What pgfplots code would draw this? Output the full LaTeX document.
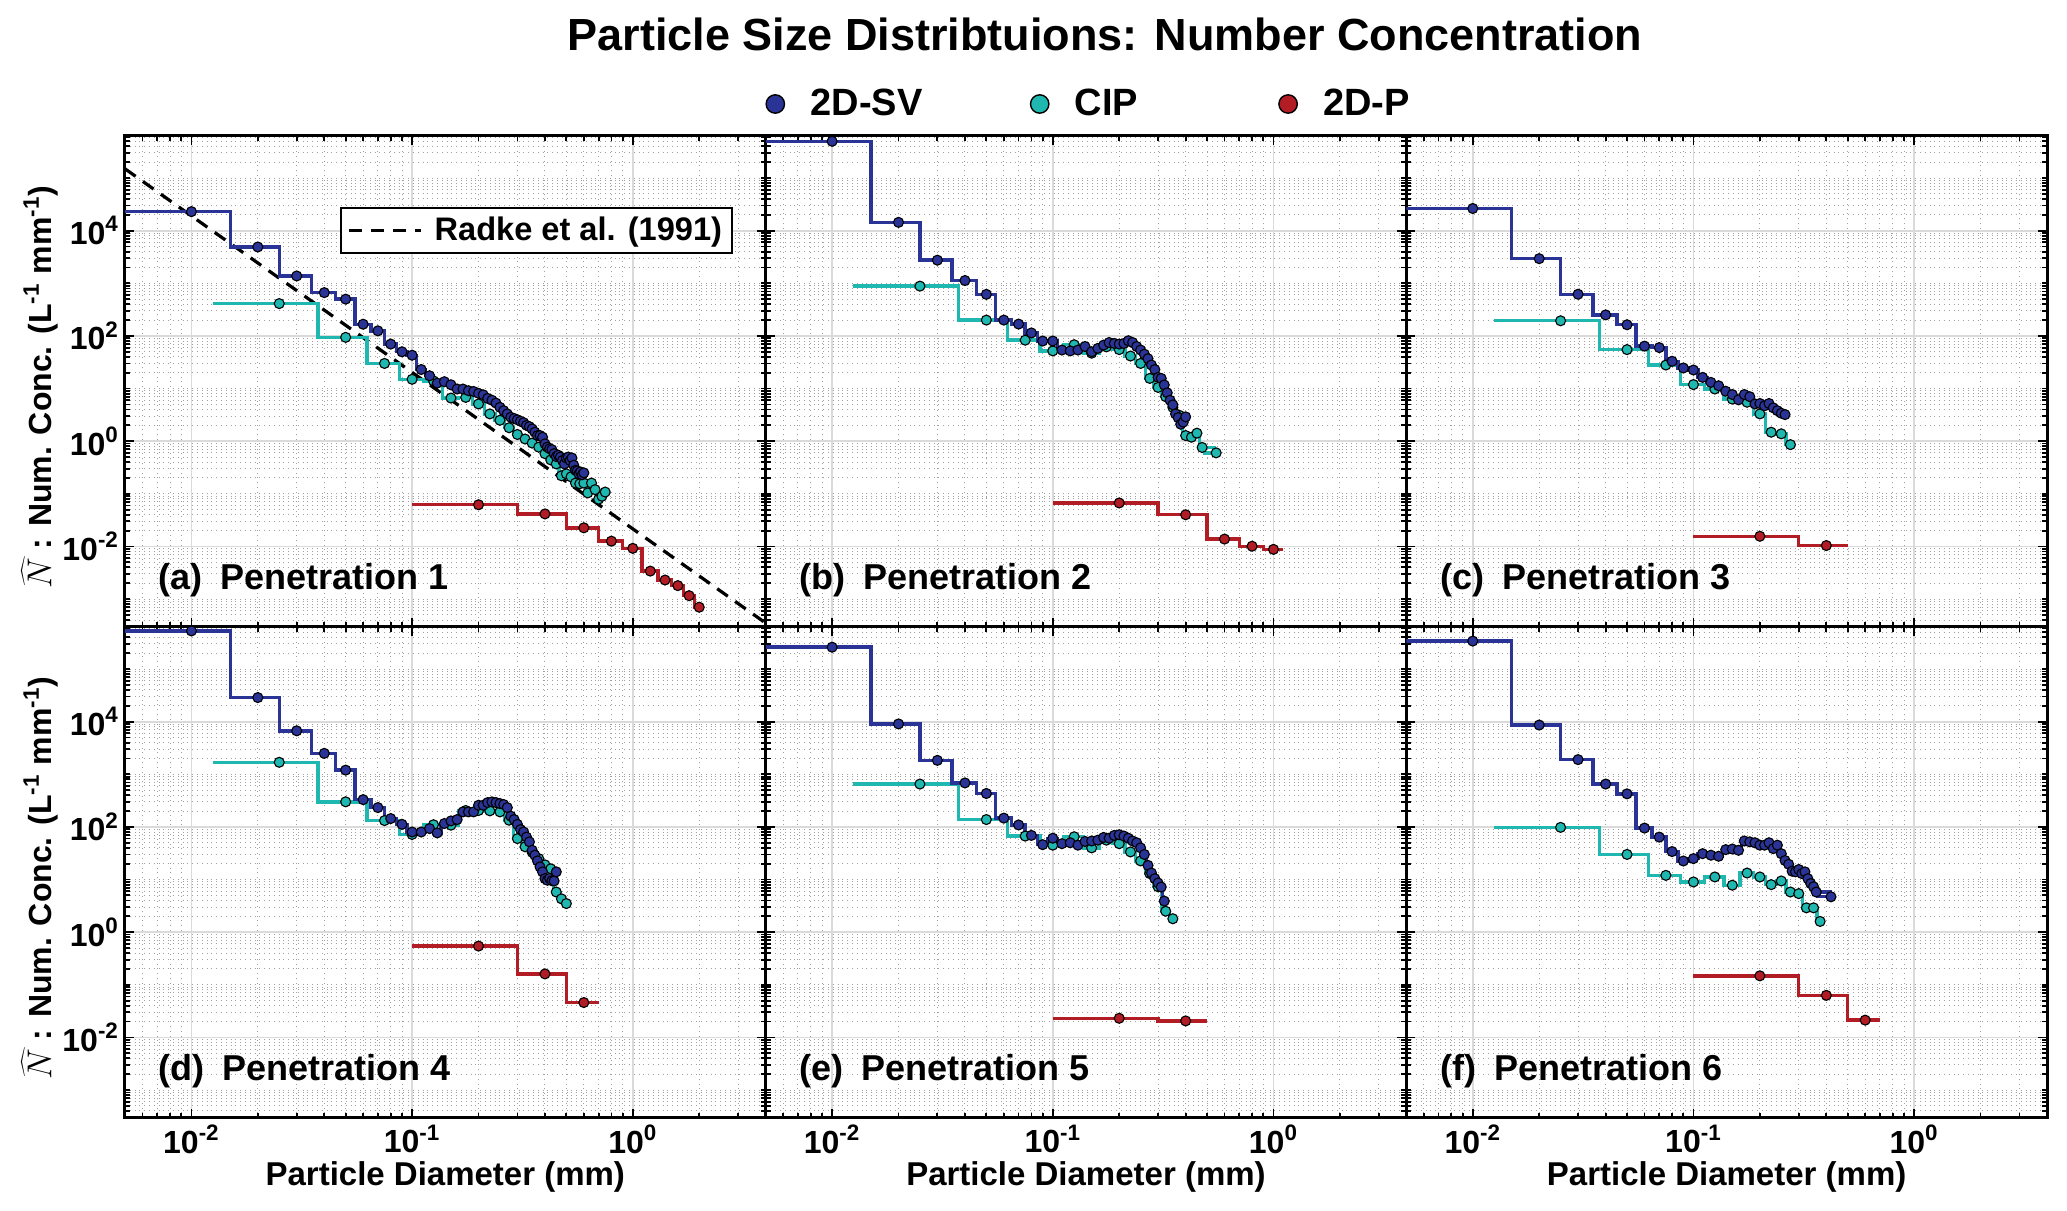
\documentclass[border=0pt]{standalone}
\usepackage{pgfplots}
\pgfplotsset{compat=1.18}
\usepackage{pgfplotstable}
\usepgfplotslibrary{groupplots}
\usepackage{fontspec}
\setmainfont{Liberation Sans}

\definecolor{svblue}{RGB}{42,52,150}
\definecolor{cipcyan}{RGB}{30,184,176}
\definecolor{pred}{RGB}{178,28,36}
\definecolor{majgrid}{RGB}{218,218,218}
\definecolor{mingrid}{RGB}{160,160,160}

\newcommand{\tlab}[1]{10\textsuperscript{#1}}

% minor tick lists (1..9 x 10^k)
\def\xminorlist{}
\foreach \e in {-3,...,0}{\foreach \m in {1,...,9}{\xdef\xminorlist{\xminorlist\m e\e,}}}
\xdef\xminorlist{\xminorlist 1e1}
\def\yminorlist{}
\foreach \e in {-4,...,5}{\foreach \m in {1,...,9}{\xdef\yminorlist{\yminorlist\m e\e,}}}
\xdef\yminorlist{\yminorlist 1e6}

% ---------- (a) Penetration 1 ----------
\pgfplotstableread{
x y
0.01 23000
0.02 4900
0.03 1380
0.04 665
0.05 500
0.06 167
0.07 125
0.08 70
0.09 50
0.10 43
0.11 23
0.12 17.5
0.13 12.7
0.14 13.5
0.15 11.8
0.16 9.8
0.17 9.8
0.18 9.1
0.19 8.8
0.20 8.1
0.21 7.6
0.22 6.5
0.23 6.0
0.24 5.3
0.25 4.4
0.26 3.8
0.27 3.3
0.28 2.85
0.29 2.7
0.30 2.55
0.31 2.4
0.32 2.25
0.33 2.0
0.34 1.89
0.35 1.71
0.36 1.48
0.37 1.28
0.38 1.28
0.39 1.19
0.40 0.89
0.41 0.77
0.42 0.72
0.43 0.69
0.44 0.58
0.45 0.51
0.46 0.54
0.47 0.50
0.48 0.43
0.49 0.37
0.50 0.48
0.51 0.50
0.52 0.43
0.53 0.48
0.54 0.35
0.55 0.28
0.56 0.27
0.57 0.24
0.58 0.26
0.59 0.23
0.60 0.25
}\aSV
\pgfplotstableread{
x y
0.025 412
0.05 94
0.075 30
0.1 15
0.125 14
0.15 6.6
0.175 6.8
0.2 5.1
0.225 3.3
0.25 2.5
0.275 1.8
0.3 1.34
0.325 1.1
0.35 0.92
0.375 0.77
0.4 0.58
0.425 0.44
0.45 0.37
0.475 0.22
0.5 0.24
0.525 0.21
0.55 0.16
0.575 0.155
0.6 0.16
0.625 0.104
0.65 0.16
0.675 0.12
0.7 0.079
0.725 0.09
0.75 0.108
}\aCIP
\pgfplotstableread{
x y
0.2 0.062
0.4 0.0415
0.6 0.0226
0.8 0.0126
1.0 0.0092
1.2 0.0034
1.4 0.0023
1.6 0.0018
1.8 0.00116
2.0 0.0007
}\aP

% ---------- (b) Penetration 2 ----------
\pgfplotstableread{
x y
0.01 500000
0.02 14400
0.03 2750
0.04 1130
0.05 617
0.06 200
0.07 168
0.08 114
0.09 80
0.10 80
0.11 54
0.12 52
0.13 54
0.14 63
0.15 50
0.16 58
0.17 67
0.18 75
0.19 72
0.20 70
0.21 72
0.22 81
0.23 75
0.24 63
0.25 54
0.26 45
0.27 37
0.28 28
0.29 23
0.30 16.3
0.31 15.6
0.32 11.7
0.33 8.3
0.34 6.0
0.35 4.9
0.36 3.3
0.37 2.8
0.38 2.1
0.39 2.3
0.40 2.9
}\bSV
\pgfplotstableread{
x y
0.025 884
0.05 200
0.075 83
0.1 52
0.125 68
0.15 47
0.175 62
0.2 55
0.225 41.5
0.25 30
0.275 15.6
0.3 10.5
0.325 7.0
0.35 4.4
0.375 3.1
0.4 1.28
0.425 1.19
0.45 1.42
0.475 0.76
0.55 0.60
}\bCIP
\pgfplotstableread{
x y
0.2 0.067
0.4 0.040
0.6 0.0138
0.8 0.0101
1.0 0.0088
}\bP

% ---------- (c) Penetration 3 ----------
\pgfplotstableread{
x y
0.01 26400
0.02 2940
0.03 620
0.04 251
0.05 163
0.06 64
0.07 60
0.08 33
0.09 24.6
0.10 22.5
0.11 16.3
0.12 13.1
0.13 11.3
0.14 8.9
0.15 7.7
0.16 6.1
0.17 7.7
0.18 7.0
0.19 5.1
0.20 5.2
0.21 4.7
0.22 5.2
0.23 4.3
0.24 3.8
0.25 3.4
0.26 3.2
}\cSV
\pgfplotstableread{
x y
0.025 194
0.05 55
0.075 28
0.1 11.9
0.125 9.8
0.15 6.3
0.175 5.5
0.2 3.3
0.225 1.48
0.25 1.38
0.275 0.86
}\cCIP
\pgfplotstableread{
x y
0.2 0.0156
0.4 0.0104
}\cP

% ---------- (d) Penetration 4 ----------
\pgfplotstableread{
x y
0.01 530000
0.02 28700
0.03 6700
0.04 2500
0.05 1200
0.06 330
0.07 233
0.08 144
0.09 112
0.10 80
0.11 80
0.12 93
0.13 77
0.14 116
0.15 130
0.16 138
0.17 193
0.18 193
0.19 193
0.20 258
0.21 258
0.22 290
0.23 299
0.24 290
0.25 278
0.26 266
0.27 233
0.28 160
0.29 138
0.30 112
0.31 89
0.32 80
0.33 64
0.34 52
0.35 36
0.36 29
0.37 22.6
0.38 17.4
0.39 14
0.40 10.4
0.41 9.7
0.42 10.5
0.43 9.5
0.44 9.4
0.45 14
}\dSV
\pgfplotstableread{
x y
0.025 1690
0.05 300
0.075 132
0.1 72
0.125 110
0.15 108
0.175 205
0.2 205
0.225 202
0.25 193
0.275 134
0.3 60
0.325 42
0.35 33
0.375 25
0.4 19
0.425 16
0.45 5.8
0.475 4.3
0.5 3.5
}\dCIP
\pgfplotstableread{
x y
0.2 0.544
0.4 0.161
0.6 0.046
}\dP

% ---------- (e) Penetration 5 ----------
\pgfplotstableread{
x y
0.01 260000
0.02 9060
0.03 1840
0.04 685
0.05 432
0.06 147
0.07 109
0.08 69
0.09 46
0.10 61
0.11 48
0.12 50
0.13 45
0.14 53
0.15 54
0.16 56
0.17 63
0.18 61
0.19 69
0.20 71
0.21 67
0.22 61
0.23 54
0.24 50
0.25 40
0.26 30
0.27 18.6
0.28 13.3
0.29 10.4
0.30 8.6
0.31 7.2
0.32 3.9
}\eSV
\pgfplotstableread{
x y
0.025 652
0.05 138
0.075 67
0.1 45
0.125 65
0.15 40
0.175 56
0.2 48
0.225 33.5
0.25 22.6
0.275 13
0.3 7.3
0.325 2.5
0.35 1.8
}\eCIP
\pgfplotstableread{
x y
0.2 0.0231
0.4 0.0206
}\eP

% ---------- (f) Penetration 6 ----------
\pgfplotstableread{
x y
0.01 340000
0.02 8630
0.03 1900
0.04 652
0.05 425
0.06 95
0.07 64
0.08 34
0.09 22.5
0.10 25
0.11 31
0.12 29
0.13 27.7
0.14 37
0.15 38
0.16 36
0.17 54
0.18 52
0.19 50
0.20 45
0.21 45
0.22 50
0.23 38.7
0.24 45
0.25 31
0.26 23
0.27 19.5
0.28 14.4
0.29 14
0.30 15.5
0.31 13
0.32 14
0.33 10.4
0.34 8.4
0.35 7.3
0.36 5.8
0.42 4.7
}\fSV
\pgfplotstableread{
x y
0.025 98
0.05 30
0.075 12
0.1 9.0
0.125 11.2
0.15 7.8
0.175 13.3
0.2 11.2
0.225 8.0
0.25 9.4
0.275 5.8
0.3 5.4
0.325 2.9
0.35 2.9
0.375 1.6
}\fCIP
\pgfplotstableread{
x y
0.2 0.148
0.4 0.063
0.6 0.0213
}\fP

% stairs: left edges (mark left) + right edges (mark right) cover every bin
\newcommand{\steps}[3]{%
  \addplot[const plot mark left, color=#3, line width=1.7pt, forget plot]
    table[x expr=\thisrow{x}-#2, y=y] {#1};
  \addplot[const plot mark right, color=#3, line width=1.7pt, forget plot]
    table[x expr=\thisrow{x}+#2, y=y] {#1};
}
\newcommand{\pts}[2]{%
  \addplot[only marks, mark=*, mark size=2.5pt,
    mark options={fill=#2, draw=black, line width=0.55pt}, forget plot]
    table[x=x, y=y] {#1};
}
\newcommand{\panel}[3]{%
  \steps{#2}{0.0125}{cipcyan}\pts{#2}{cipcyan}
  \steps{#1}{0.005}{svblue}\pts{#1}{svblue}
  \steps{#3}{0.1}{pred}\pts{#3}{pred}
}
\newcommand{\plab}[1]{%
  \node[anchor=west, font=\fontsize{18}{21}\selectfont\bfseries]
    at (rel axis cs:0.042,0.096) {#1};
}
\newcommand{\ylab}{$\widehat{N}$ : Num. Conc. (L\textsuperscript{-1} mm\textsuperscript{-1})}

\begin{document}
\begin{tikzpicture}
\begin{groupplot}[
  group style={group size=3 by 2, horizontal sep=0pt, vertical sep=0pt},
  scale only axis, width=320.35pt, height=245.5pt,
  xmode=log, ymode=log,
  xmin=0.005, xmax=4, ymin=2.95e-4, ymax=6.3e5,
  xtick={0.01,0.1,1}, xticklabels={},
  ytick={1e-2,1,1e2,1e4}, yticklabels={},
  minor xtick/.expanded={\xminorlist},
  minor ytick/.expanded={\yminorlist},
  grid=both,
  major grid style={solid, majgrid, line width=0.9pt},
  minor grid style={dotted, mingrid, line width=0.5pt},
  axis line style={black, line width=1.5pt},
  tick style={black, line width=0.9pt},
  major tick length=4.5pt, minor tick length=2.5pt,
  tick align=inside,
  ticklabel style={font=\fontsize{16}{19}\selectfont\bfseries},
  yticklabel style={xshift=0.5pt},
  xlabel style={at={(axis description cs:0.5,0)}, anchor=center, yshift=-29.3pt,
    font=\fontsize{16.5}{20}\selectfont\bfseries},
  ylabel style={at={(axis description cs:-0.133,0.488)}, anchor=center,
    font=\fontsize{16}{19}\selectfont\bfseries},
]
% (a)
\nextgroupplot[yticklabels={\tlab{-2},\tlab{0},\tlab{2},\tlab{4}}, ylabel={\ylab},
  legend style={at={(0.949,0.855)}, anchor=north east, draw=black, line width=0.9pt,
    fill=white, font=\fontsize{16.3}{19}\selectfont\bfseries, inner xsep=3pt, inner ysep=2.5pt,
    /tikz/every odd column/.append style={column sep=4pt}},
  legend image code/.code={\draw[#1] (0pt,0pt) -- (36pt,0pt);}]
\addplot[black, line width=1.6pt, dash pattern=on 6.5pt off 4.5pt]
  coordinates {(0.005,1.5e5) (4,3.5e-4)};
\addlegendentry{Radke et al. (1991)}
\panel{\aSV}{\aCIP}{\aP}
\plab{(a)\hspace{9pt}Penetration 1}
% (b)
\nextgroupplot[
  legend style={at={(0.5,1)}, anchor=center, xshift=2pt, yshift=16pt, draw=none, fill=none,
    legend columns=3, font=\fontsize{19}{23}\selectfont\bfseries,
    /tikz/every odd column/.append style={column sep=11pt},
    /tikz/every even column/.append style={column sep=20pt},
    nodes={inner sep=2pt}},
  legend image code/.code={\draw[#1] plot coordinates {(0pt,0pt)};}]
\panel{\bSV}{\bCIP}{\bP}
\addlegendimage{only marks, mark=*, mark size=4.6pt, mark options={fill=svblue, draw=black, line width=0.7pt}}
\addlegendentry{\makebox[88pt][l]{2D-SV}}
\addlegendimage{only marks, mark=*, mark size=4.6pt, mark options={fill=cipcyan, draw=black, line width=0.7pt}}
\addlegendentry{\makebox[80pt][l]{CIP}}
\addlegendimage{only marks, mark=*, mark size=4.6pt, mark options={fill=pred, draw=black, line width=0.7pt}}
\addlegendentry{2D-P}
\plab{(b)\hspace{9pt}Penetration 2}
% (c)
\nextgroupplot
\panel{\cSV}{\cCIP}{\cP}
\plab{(c)\hspace{9pt}Penetration 3}
% (d)
\nextgroupplot[yticklabels={\tlab{-2},\tlab{0},\tlab{2},\tlab{4}}, ylabel={\ylab},
  xticklabels={\tlab{-2},\tlab{-1},\tlab{0}}, xlabel={Particle Diameter (mm)}]
\panel{\dSV}{\dCIP}{\dP}
\plab{(d)\hspace{9pt}Penetration 4}
% (e)
\nextgroupplot[xticklabels={\tlab{-2},\tlab{-1},\tlab{0}}, xlabel={Particle Diameter (mm)}]
\panel{\eSV}{\eCIP}{\eP}
\plab{(e)\hspace{9pt}Penetration 5}
% (f)
\nextgroupplot[xticklabels={\tlab{-2},\tlab{-1},\tlab{0}}, xlabel={Particle Diameter (mm)}]
\panel{\fSV}{\fCIP}{\fP}
\plab{(f)\hspace{9pt}Penetration 6}
\end{groupplot}

\node[font=\fontsize{22.5}{27}\selectfont\bfseries, xshift=9.5pt, yshift=51pt]
  at (group c2r1.north) {Particle Size Distribtuions: Number Concentration};

\pgfresetboundingbox
\path[use as bounding box] ([xshift=-62.5pt, yshift=68pt]group c1r1.north west)
  rectangle ([xshift=10pt, yshift=-46.5pt]group c3r2.south east);
\end{tikzpicture}
\end{document}
